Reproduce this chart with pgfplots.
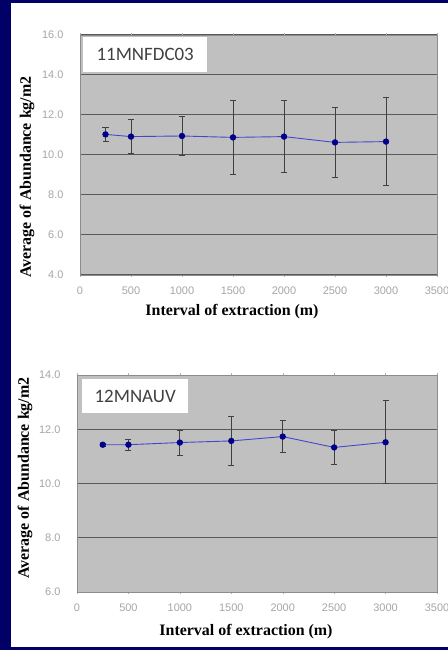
\documentclass[border=0pt]{standalone}
\usepackage{pgfplots}
\pgfplotsset{compat=1.18}
\usepackage{fontspec}
\setmainfont{Liberation Serif}
\newfontfamily\boxfont{Carlito}
\newfontfamily\tickfont{Liberation Sans}
\definecolor{navybg}{RGB}{0,0,102}
\definecolor{plotgray}{RGB}{192,192,192}
\definecolor{linecol}{RGB}{70,70,205}
\definecolor{markcol}{RGB}{0,0,140}
\pgfplotstableread{
x y err
250 11.03 0.35
500 10.92 0.85
1000 10.95 0.98
1500 10.88 1.86
2000 10.92 1.81
2500 10.63 1.75
3000 10.67 2.20
}\topdata
\pgfplotstableread{
x y err
250 11.43 0.05
500 11.43 0.20
1000 11.51 0.46
1500 11.57 0.90
2000 11.73 0.58
2500 11.33 0.64
3000 11.52 1.53
}\botdata
\begin{document}
\begin{tikzpicture}
\useasboundingbox (0bp,0bp) rectangle (448bp,650bp);
\fill[navybg] (0bp,0bp) rectangle (448bp,650bp);
\fill[white] (11bp,3bp) rectangle (448bp,647bp);
\pgfplotsset{myax/.style={
  scale only axis, anchor=south west,
  xmin=0, xmax=3500, xtick={0,500,...,3500},
  axis background/.style={fill=plotgray},
  axis line style={draw=black!45, line width=0.8bp},
  ymajorgrids, grid style={draw=black!65, line width=1bp},
  xtick align=outside, major tick length=2bp,
  xtick style={draw=black!30},
  ytick style={draw=none},
  /pgf/number format/assume math mode=true,
  /pgf/number format/set thousands separator={},
  ticklabel style={font=\tickfont\fontsize{11}{11}\selectfont, text=black!35},
  xticklabel style={yshift=-6bp},
  yticklabel style={xshift=-13bp, /pgf/number format/.cd, fixed, fixed zerofill, precision=1},
},
myplot/.style={
  color=linecol, line width=0.9bp,
  mark=*, mark size=2.7bp, mark options={fill=markcol, draw=markcol},
  error bars/y dir=both, error bars/y explicit,
  error bars/error bar style={draw=black!75, line width=0.9bp},
  error bars/error mark options={rotate=90, mark size=3bp, draw=black!75, line width=0.9bp},
}}
% top chart
\begin{axis}[myax, at={(80bp,375bp)}, width=357bp, height=240bp,
  ymin=4, ymax=16, ytick={4,6,...,16}]
\addplot[myplot] table[x=x, y=y, y error=err] {\topdata};
\end{axis}
% bottom chart
\begin{axis}[myax, at={(77bp,58bp)}, width=360bp, height=217bp,
  ymin=6, ymax=14, ytick={6,8,...,14}]
\addplot[myplot] table[x=x, y=y, y error=err] {\botdata};
\end{axis}
% label boxes
\node[fill=white, anchor=north west, minimum width=124bp, minimum height=35bp, inner sep=0pt,
  text=black!75, font=\boxfont\fontsize{19}{19}\selectfont] at (83bp,613bp) {11MNFDC03};
\node[fill=white, anchor=north west, minimum width=106bp, minimum height=34bp, inner sep=0pt,
  text=black!75, font=\boxfont\fontsize{19}{19}\selectfont] at (82bp,271bp) {12MNAUV};
% axis titles
\node[font=\bfseries\fontsize{16}{16}\selectfont] at (232bp,338bp) {Interval of extraction (m)};
\node[font=\bfseries\fontsize{16}{16}\selectfont] at (246bp,18bp) {Interval of extraction (m)};
\node[rotate=90, font=\bfseries\fontsize{16}{16}\selectfont] at (27bp,473bp) {Average of Abundance kg/m2};
\node[rotate=90, font=\bfseries\fontsize{16}{16}\selectfont] at (25bp,172bp) {Average of Abundance kg/m2};
\end{tikzpicture}
\end{document}
